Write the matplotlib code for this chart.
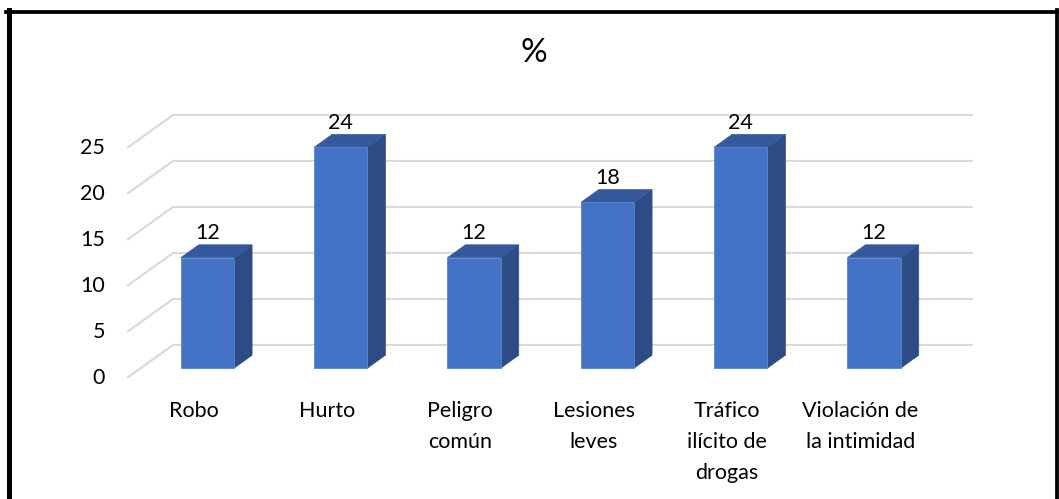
import matplotlib.pyplot as plt
from matplotlib.patches import Polygon
from matplotlib.lines import Line2D

plt.rcParams['font.family'] = ['Lato', 'DejaVu Sans']

categories = ['Robo', 'Hurto', 'Peligro\ncomún', 'Lesiones\nleves',
              'Tráfico\nilícito de\ndrogas', 'Violación de\nla intimidad']
values = [12, 24, 12, 18, 24, 12]
yticks = [0, 5, 10, 15, 20, 25]

# oblique "3d" look: offset of the back wall in data units
ox, oy = 0.345, 3.59
t0, t1 = 0.30, 0.69     # bar front / back depth
w = 0.4

front_c = '#4472C4'
side_c = '#2D4C86'
top_c = '#36599E'
grid_c = '#D9D9D9'

fig = plt.figure(figsize=(10.59, 4.99), dpi=100)
ax = fig.add_axes([0, 0, 1, 1])
ax.set_xlim(-127 / 133.33, (1059 - 127) / 133.33)
ax.set_ylim(-121 / 9.2, 378 / 9.2)
ax.axis('off')

n = len(categories)
for v in yticks:
    ax.plot([0, ox, n + ox], [v, v + oy, v + oy], color=grid_c, lw=1.5,
            solid_capstyle='butt', zorder=1)
    ax.text(-0.165, v, str(v), ha='right', va='center', fontsize=15.5)

for i, v in enumerate(values):
    xl = i + 0.5 - w / 2
    xr = i + 0.5 + w / 2
    front = [(xl + ox * t0, oy * t0), (xr + ox * t0, oy * t0),
             (xr + ox * t0, v + oy * t0), (xl + ox * t0, v + oy * t0)]
    side = [(xr + ox * t0, oy * t0), (xr + ox * t1, oy * t1),
            (xr + ox * t1, v + oy * t1), (xr + ox * t0, v + oy * t0)]
    top = [(xl + ox * t0, v + oy * t0), (xr + ox * t0, v + oy * t0),
           (xr + ox * t1, v + oy * t1), (xl + ox * t1, v + oy * t1)]
    ax.add_patch(Polygon(side, closed=True, fc=side_c, ec=side_c, lw=0.5, zorder=2))
    ax.add_patch(Polygon(top, closed=True, fc=top_c, ec=top_c, lw=0.5, zorder=2))
    ax.add_patch(Polygon(front, closed=True, fc=front_c, ec='#5A86D0', lw=0.6, zorder=3))
    ax.text(i + 0.5 + ox * t0, v + oy * t1 + 0.15, str(v), ha='center',
            va='bottom', fontsize=15.5)
    ax.text(i + 0.5, -2.5, categories[i], ha='center', va='top',
            fontsize=15.5, linespacing=1.68)

fig.text(534 / 1059, 1 - 53 / 499, '%', ha='center', va='center', fontsize=24)

# black frame around the chart
fig.add_artist(Line2D([8.5 / 1059, 8.5 / 1059], [0, 1 - 9.5 / 499],
                      transform=fig.transFigure, color='black', lw=3.6))
fig.add_artist(Line2D([6 / 1059, 1059 / 1059], [1 - 11.5 / 499, 1 - 11.5 / 499],
                      transform=fig.transFigure, color='black', lw=2.7))
fig.add_artist(Line2D([1057 / 1059, 1057 / 1059], [0, 1 - 9.5 / 499],
                      transform=fig.transFigure, color='black', lw=2.7))

fig.savefig('out.png', dpi=100)
